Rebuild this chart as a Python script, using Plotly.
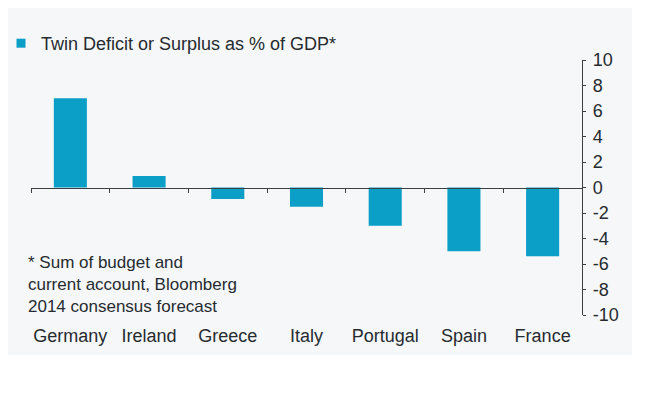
import plotly.graph_objects as go

countries = ["Germany", "Ireland", "Greece", "Italy", "Portugal", "Spain", "France"]
values = [7.0, 0.9, -0.9, -1.5, -3.0, -5.0, -5.4]
y_ticks = [10, 8, 6, 4, 2, 0, -2, -4, -6, -8, -10]
y_tick_labels = ["10", "8", "6", "4", "2", "0", "-2", "-4", "-6", "-8", "-10"]
legend_name = "Twin Deficit or Surplus as % of GDP*"
note_text = "* Sum of budget and<br>current account, Bloomberg<br>2014 consensus forecast"

BAR = "#0b9ec6"
TXT = "#262b30"
FONT = "Liberation Sans, Arial, sans-serif"

# page offset (body margin of the html page)
OFF = 8
W, H = 648 - OFF, 396 - OFF
L, T = 31 - OFF, 60 - OFF
R = W - (582 - OFF)
B = H - (315 - OFF)
pw, ph = W - L - R, H - T - B


def px_x(p):
    return (p - OFF - L) / pw


def px_y(p):
    return (T + ph - (p - OFF)) / ph


fig = go.Figure()
fig.add_trace(go.Bar(x=countries, y=values, marker=dict(color=BAR, line=dict(width=0)),
                     width=0.42, showlegend=False, hoverinfo="x+y"))
# legend entry (small square marker)
fig.add_trace(go.Scatter(x=[None], y=[None], mode="markers", name=legend_name,
                         marker=dict(symbol="square", size=9, color=BAR), showlegend=True))
# helper trace for the zero-line axis with boundary ticks
fig.add_trace(go.Scatter(x=countries, y=[0] * len(countries), xaxis="x2", mode="markers",
                         marker=dict(opacity=0), showlegend=False, hoverinfo="skip"))

fig.update_layout(
    width=W, height=H,
    margin=dict(l=L, r=R, t=T, b=B, pad=0, autoexpand=False),
    paper_bgcolor="white",
    plot_bgcolor="rgba(0,0,0,0)",
    font=dict(family=FONT, color=TXT, size=18),
    xaxis=dict(type="category", categoryorder="array", categoryarray=countries,
               range=[-0.5, 6.5], showline=False, showgrid=False, zeroline=False,
               automargin=False,
               ticks="outside", ticklen=4, tickcolor="rgba(0,0,0,0)",
               tickfont=dict(size=18, color=TXT), fixedrange=True),
    xaxis2=dict(type="category", categoryorder="array", categoryarray=countries,
                range=[-0.5, 6.5], overlaying="x", anchor="free", position=0.5,
                showline=True, linecolor="#3a3f44", linewidth=1.2, automargin=False,
                ticks="outside", tickson="boundaries", ticklen=4, tickcolor="#3a3f44",
                tickwidth=1, showticklabels=False, showgrid=False, zeroline=False),
    yaxis=dict(side="right", range=[-10, 10], tickvals=y_ticks, ticktext=y_tick_labels,
               showline=True, linecolor="#3a3f44", linewidth=1.2, automargin=False,
               ticks="outside", ticklen=3, tickcolor="#3a3f44", ticklabelstandoff=3,
               showgrid=False, zeroline=False,
               tickfont=dict(size=18, color=TXT)),
    legend=dict(xref="paper", yref="paper", x=px_x(1), y=px_y(25),
                xanchor="left", yanchor="top",
                bgcolor="rgba(0,0,0,0)", font=dict(size=18, color=TXT),
                itemwidth=30),
    shapes=[dict(type="rect", xref="paper", yref="paper", layer="below",
                 x0=px_x(5), x1=px_x(632), y0=px_y(355), y1=px_y(5),
                 fillcolor="#f5f7f8", line=dict(width=0))],
    annotations=[dict(text=note_text, xref="paper", yref="paper",
                      x=px_x(26), y=px_y(251),
                      xanchor="left", yanchor="top", align="left", showarrow=False,
                      font=dict(size=17, color=TXT))],
)

fig.write_html("out.html")
